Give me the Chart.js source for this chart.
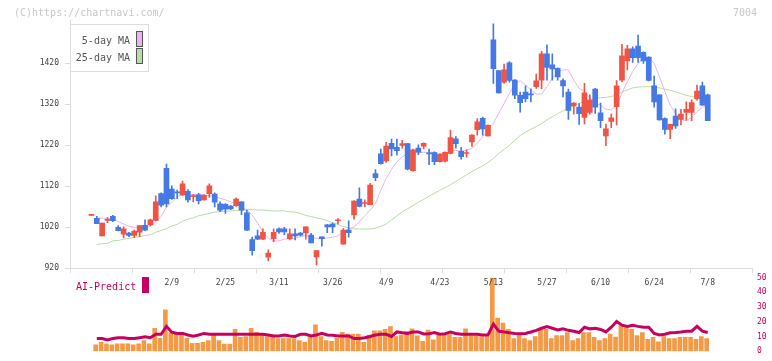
<!DOCTYPE html>
<html><head><meta charset="utf-8">
<script src="https://cdn.jsdelivr.net/npm/chart.js@4"></script>
<style>
html,body{margin:0;padding:0;background:#fff;}
#wrap{position:relative;width:772px;height:361px;overflow:hidden;background:#fff;}
canvas{position:absolute;left:0;top:0;}
</style></head><body>
<div id="wrap"><canvas id="vol" width="772" height="361"></canvas><canvas id="price" width="772" height="361"></canvas></div>
<script>
// ---- data ----
const dates = ['1/19','1/20','1/21','1/22','1/23','1/26','1/27','1/28','1/29','1/30',
'2/2','2/3','2/4','2/5','2/6','2/9','2/10','2/12','2/13','2/16','2/17','2/18','2/19','2/20','2/24','2/25','2/26','2/27',
'3/2','3/3','3/4','3/5','3/6','3/9','3/10','3/11','3/12','3/13','3/16','3/17','3/18','3/19','3/23','3/24','3/25','3/26','3/27','3/30','3/31',
'4/1','4/2','4/3','4/6','4/7','4/8','4/9','4/10','4/13','4/14','4/15','4/16','4/17','4/20','4/21','4/22','4/23','4/24','4/27','4/28','4/30',
'5/1','5/7','5/8','5/11','5/12','5/13','5/14','5/15','5/18','5/19','5/20','5/21','5/22','5/25','5/26','5/27','5/28','5/29',
'6/1','6/2','6/3','6/4','6/5','6/8','6/9','6/10','6/11','6/12','6/15','6/16','6/17','6/18','6/19','6/22','6/23','6/24','6/25','6/26','6/29','6/30',
'7/1','7/2','7/3','7/6','7/7','7/8'];
const open  = [1049,1042,999,1037,1047,1020,1003,1006,1000,1008,1025,1026,1037,1102,1164,1113,1105,1099,1108,1095,1099,1087,1102,1101,1077,1076,1072,1073,1082,1055,
990,999,991,947,992,1016,1016,992,1004,1006,1006,1001,948,997,1026,1028,1036,979,1013,1050,1089,1078,1075,1151,1199,1182,1225,1215,1220,1224,
1158,1213,1218,1200,1202,1180,1181,1200,1236,1206,1200,1228,1258,1286,1243,1477,1402,1374,1421,1379,1342,1350,1344,1363,1379,1443,1416,1408,1378,1350,
1316,1313,1288,1300,1357,1299,1243,1278,1314,1379,1426,1455,1462,1447,1435,1365,1343,1285,1259,1291,1283,1300,1300,1334,1365,1343];
const high  = [1049,1047,1030,1044,1049,1024,1021,1008,1013,1025,1038,1040,1097,1104,1174,1121,1111,1133,1112,1100,1103,1100,1126,1104,1082,1078,1073,1092,1083,1062,
996,1013,1016,965,1016,1019,1020,1016,1016,1008,1021,1005,963,997,1027,1031,1041,1017,1036,1085,1116,1087,1127,1161,1211,1227,1235,1235,1232,1225,
1211,1221,1226,1211,1204,1199,1204,1257,1241,1215,1209,1246,1285,1289,1270,1516,1403,1418,1424,1380,1350,1365,1358,1394,1449,1465,1443,1409,1382,1357,
1324,1322,1371,1343,1359,1323,1272,1296,1378,1466,1464,1460,1489,1448,1436,1389,1343,1287,1272,1309,1308,1326,1331,1367,1374,1345];
const low   = [1049,1029,999,1031,1034,1011,994,997,995,997,1012,1024,1036,1070,1070,1088,1090,1097,1081,1082,1077,1086,1093,1070,1058,1054,1063,1071,1051,1012,
952,990,990,938,985,1005,1002,989,989,999,991,982,928,974,1007,1007,1028,979,996,1040,1070,1070,1075,1134,1174,1178,1194,1196,1213,1160,
1157,1197,1211,1173,1173,1179,1179,1199,1213,1186,1191,1217,1245,1245,1242,1371,1347,1371,1374,1334,1301,1326,1326,1359,1358,1379,1379,1379,1338,1283,
1296,1271,1272,1296,1298,1263,1219,1263,1270,1375,1404,1422,1422,1420,1377,1313,1281,1247,1236,1261,1270,1281,1280,1330,1318,1280];
const close = [1049,1029,1030,1038,1036,1012,1016,1000,1011,1024,1013,1038,1082,1074,1077,1090,1104,1126,1087,1096,1085,1098,1121,1081,1062,1064,1065,1089,1062,1013,
963,991,1008,957,1008,1009,1009,1004,999,1001,1021,982,963,992,1021,1021,1037,1013,1007,1084,1071,1079,1123,1141,1175,1218,1211,1207,1224,1162,
1209,1203,1225,1199,1180,1198,1203,1239,1224,1192,1201,1245,1277,1260,1269,1407,1348,1404,1378,1342,1324,1334,1343,1377,1443,1410,1406,1387,1365,1305,
1323,1297,1348,1330,1313,1280,1260,1287,1365,1438,1455,1434,1434,1426,1378,1326,1282,1259,1271,1267,1296,1308,1324,1352,1318,1280];
const ma5 = [null,1042,1042,1042,1039,1034,1028,1023,1020,1020,1019,1023,1034,1046,1069,1082,1095,1100,1100,1100,1100,1099,1097,1095,1091,1087,1082,1078,1070,1062,
1050,1030,1009,993,987,987,991,993,993,997,1000,996,993,993,994,996,999,1009,1016,1021,1034,1048,1062,1078,1111,1139,1161,1180,1192,1198,
1200,1202,1203,1203,1203,1200,1200,1206,1208,1204,1208,1213,1225,1241,1257,1274,1298,1322,1347,1367,1378,1367,1355,1345,1345,1363,1383,1399,1404,1404,
1379,1359,1351,1335,1322,1318,1308,1306,1318,1347,1375,1400,1420,1432,1434,1420,1387,1351,1318,1298,1283,1280,1288,1302,1313,1316];
const ma25 = [null,978,980,981,987,988,991,993,996,997,1000,1002,1008,1012,1017,1023,1027,1035,1040,1043,1048,1051,1054,1057,1058,1059,1060,1061,1062,1063,
1063,1062,1062,1061,1060,1060,1060,1058,1057,1054,1049,1046,1043,1040,1036,1031,1027,1022,1018,1016,1016,1016,1016,1018,1022,1028,1038,1048,1058,1065,
1073,1081,1088,1096,1103,1110,1117,1124,1132,1140,1148,1156,1163,1170,1178,1188,1200,1210,1220,1232,1244,1252,1259,1266,1273,1282,1290,1297,1304,1310,
1316,1322,1327,1331,1334,1336,1337,1339,1343,1350,1355,1360,1362,1363,1363,1362,1360,1357,1354,1350,1346,1342,1339,1337,1336,1336];
const volume = [null,4.4,6.1,5.0,4.4,5.0,5.0,5.0,4.4,5.0,7.3,5.0,15.6,8.8,28.1,12.7,12.7,12.9,9.0,5.4,5.4,6.0,7.3,11.7,7.3,4.8,4.8,14.8,9.4,10.0,
15.6,12.9,11.0,10.0,11.0,8.6,8.6,8.6,8.6,7.3,6.0,10.0,17.9,10.0,7.3,6.7,8.8,12.9,11.7,11.7,11.7,6.0,11.0,13.8,13.8,14.8,16.7,10.0,11.0,13.4,
15.3,10.4,6.7,14.4,7.7,11.0,11.0,11.4,9.4,9.4,15.3,10.4,10.4,10.0,10.0,50,22.5,19.2,14.8,8.6,11.0,8.6,7.3,10.0,15.8,14.8,8.6,10.6,10.6,12.7,
7.3,8.6,12.7,12.7,9.4,7.3,8.6,11.7,9.6,17.4,16.0,14.8,10.6,12.7,8.0,9.4,6.3,10.0,8.6,8.6,9.4,9.4,9.4,8.0,10.0,8.6];
const aiPredict = [null,8.6,8.6,7.7,8.6,9.2,9.2,8.6,8.6,9.2,9.8,9.2,11.5,11.5,16.9,12.9,12.1,12.1,11.0,10.2,11.0,12.1,11.5,11.5,11.5,11.5,11.5,11.5,11.5,11.5,
11.5,11.5,11.5,11.0,10.4,10.4,11.0,10.4,10.0,11.5,11.5,10.4,11.0,12.1,11.0,10.8,10.4,10.4,10.4,8.6,8.6,9.2,10.0,11.0,11.5,11.5,10.0,13.1,12.5,12.1,
13.1,13.1,11.7,11.9,12.7,11.5,11.9,13.1,12.1,11.5,11.5,11.5,11.5,11.1,11.1,18.4,13.6,13.1,12.5,12.1,11.9,12.1,13.1,14.2,15.6,16.7,15.6,14.4,15.2,14.2,
13.6,12.7,16.3,15.2,15.6,14.8,13.1,16.3,20.2,17.7,16.9,17.7,16.9,16.3,16.3,12.1,11.1,11.5,12.5,12.7,13.1,13.6,13.6,16.9,13.6,12.7];
const tickDates = ['2/9','2/25','3/11','3/26','4/9','4/23','5/13','5/27','6/10','6/24','7/8'];
const priceTicks = [920,1020,1120,1220,1320,1420];
const volTicks = [0,10,20,30,40,50];
const maLabels = ['5-day MA','25-day MA'];
const aiLabel = 'AI-Predict';
const copyright = '(C)https://chartnavi.com/';
const code = '7004';

// ---- style ----
const FONT = '"DejaVu Sans Mono","Liberation Mono",monospace';
Chart.defaults.font.family = FONT;
const RED = '#f05444', BLUE = '#4479e6';
const PINK = '#e8b4ec', GREEN = '#b7dca8';
const ORANGE = '#f29a46', MAG = '#c8005f';
const AXIS = '#dddddd', TXT = '#444444';
const XMIN = -4, XMAX = 123.26;

const idx = dates.map((d, i) => i);
const isUp = i => close[i] >= open[i];
const candleColor = c => isUp(c.dataIndex) ? RED : BLUE;

const legendPlugin = {
  id: 'maLegend',
  afterDraw(chart) {
    const ctx = chart.ctx;
    ctx.save();
    ctx.fillStyle = '#ffffff';
    ctx.fillRect(70.5, 24.5, 78, 47);
    ctx.strokeStyle = AXIS; ctx.lineWidth = 1;
    ctx.strokeRect(70.5, 24.5, 78, 47);
    ctx.font = '10px ' + FONT;
    ctx.textAlign = 'right'; ctx.textBaseline = 'alphabetic';
    const cols = [PINK, GREEN];
    maLabels.forEach((t, k) => {
      const y0 = 31.5 + k * 17;
      ctx.fillStyle = '#555555';
      ctx.fillText(t, 130, y0 + 12);
      ctx.fillStyle = cols[k];
      ctx.fillRect(136.5, y0, 6, 15);
      ctx.strokeStyle = '#555555';
      ctx.strokeRect(136.5, y0, 6, 15);
    });
    ctx.textAlign = 'left';
    ctx.fillStyle = '#c8c8c8';
    ctx.fillText(copyright, 14, 16);
    ctx.textAlign = 'right';
    ctx.fillText(code, 757, 16);
    ctx.restore();
  }
};

const aiPlugin = {
  id: 'aiLegend',
  afterDraw(chart) {
    const ctx = chart.ctx;
    ctx.save();
    ctx.font = '10px ' + FONT;
    ctx.fillStyle = MAG;
    ctx.textAlign = 'left'; ctx.textBaseline = 'alphabetic';
    ctx.fillText(aiLabel, 76, 289.5);
    ctx.fillRect(142, 277, 7, 16);
    ctx.restore();
  }
};

new Chart(document.getElementById('vol'), {
  type: 'bar',
  data: { datasets: [
    { type: 'line', label: aiLabel, data: idx.map(i => ({x: i, y: aiPredict[i]})),
      borderColor: MAG, borderWidth: 3, pointRadius: 0, tension: 0, order: 0 },
    { label: 'volume', data: idx.map(i => ({x: i - 0.2, y: volume[i]})),
      backgroundColor: ORANGE, barThickness: 4, grouped: false, order: 1 }
  ]},
  options: {
    responsive: false, animation: false, devicePixelRatio: 1,
    layout: { padding: { left: 70, top: 277.7, bottom: 3.3, right: 0 } },
    plugins: { legend: { display: false }, tooltip: { enabled: false } },
    scales: {
      x: { type: 'linear', min: XMIN, max: XMAX, display: false, offset: false },
      y: { type: 'linear', position: 'right', min: 0, max: 50,
        afterBuildTicks: s => { s.ticks = volTicks.map(v => ({value: v})); },
        afterFit: s => { s.width = 20; },
        grid: { display: false, drawTicks: false },
        border: { display: false },
        ticks: { color: MAG, font: { size: 8, family: FONT }, padding: 5, callback: v => String(v) } }
    }
  },
  plugins: [aiPlugin]
});

new Chart(document.getElementById('price'), {
  type: 'bar',
  data: { datasets: [
    { label: 'body', data: idx.map(i => ({x: i, y: [open[i], close[i]]})),
      backgroundColor: candleColor, barThickness: 5, minBarLength: 1, grouped: false, order: 1 },
    { label: 'wick', data: idx.map(i => ({x: i, y: [low[i], high[i]]})),
      backgroundColor: candleColor, barThickness: 1, minBarLength: 1, grouped: false, order: 2 },
    { type: 'line', label: maLabels[0], data: idx.map(i => ({x: i, y: ma5[i]})),
      borderColor: PINK, borderWidth: 1, pointRadius: 0, tension: 0, order: 3 },
    { type: 'line', label: maLabels[1], data: idx.map(i => ({x: i, y: ma25[i]})),
      borderColor: GREEN, borderWidth: 1, pointRadius: 0, tension: 0, order: 4 }
  ]},
  options: {
    responsive: false, animation: false, devicePixelRatio: 1,
    layout: { padding: { top: 20.25, right: 20, left: 0, bottom: 0 } },
    plugins: { legend: { display: false }, tooltip: { enabled: false } },
    scales: {
      x: { type: 'linear', min: XMIN, max: XMAX, offset: false,
        afterBuildTicks: s => {
          const t = [];
          for (let k = 0; k <= 11; k++) t.push({value: s.min + (s.max - s.min) * k / 11, isGrid: true});
          tickDates.forEach(d => t.push({value: dates.indexOf(d), isDate: true}));
          t.sort((a, b) => a.value - b.value);
          s.ticks = t;
        },
        afterFit: s => { s.height = 361 - 268.3; },
        grid: { drawOnChartArea: false, offset: false, tickLength: 5,
          color: c => (c.tick && c.tick.isGrid) ? AXIS : 'rgba(0,0,0,0)' },
        border: { color: AXIS },
        ticks: { autoSkip: false, maxRotation: 0, color: TXT, font: { size: 8, family: FONT }, padding: 5,
          callback: (v, i, ts) => ts[i] && ts[i].isDate ? dates[Math.round(v)] : '' } },
      y: { type: 'linear', min: 920, max: 1525,
        afterBuildTicks: s => { s.ticks = priceTicks.map(v => ({value: v})); },
        afterFit: s => { s.width = 70; },
        grid: { drawOnChartArea: false, tickLength: 5, color: AXIS },
        border: { color: AXIS },
        ticks: { color: TXT, font: { size: 8, family: FONT }, padding: 6, callback: v => String(v) } }
    }
  },
  plugins: [legendPlugin]
});
</script>
</body></html>
